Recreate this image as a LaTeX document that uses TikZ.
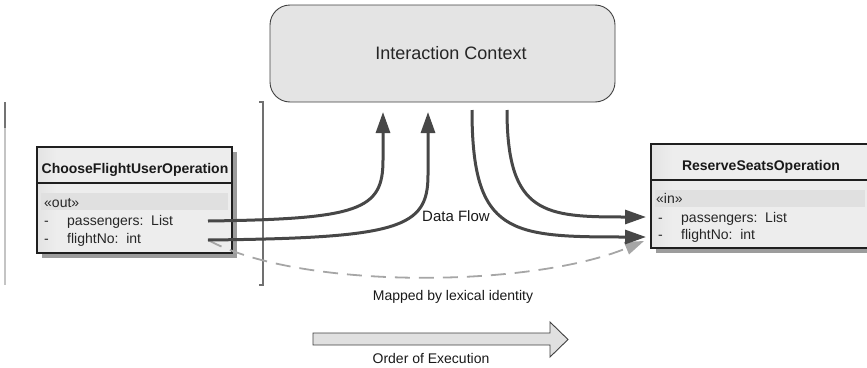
\documentclass[tikz,border=0pt]{standalone}
\usepackage{fontspec}
\setmainfont{Liberation Sans}
\usetikzlibrary{arrows.meta}

\definecolor{boxfill}{HTML}{EDEDED}
\definecolor{bandfill}{HTML}{E0E0E0}
\definecolor{ctxfill}{HTML}{E4E4E4}
\definecolor{flowcol}{HTML}{474747}
\definecolor{mapcol}{HTML}{A6A6A6}
\definecolor{shadowcol}{HTML}{9C9C9C}
\definecolor{gradleft}{HTML}{B4B4B4}
\definecolor{bracketcol}{HTML}{707070}
\definecolor{leftlinecol}{HTML}{C4C4C4}
\pgfdeclarehorizontalshading{classshade}{100bp}{color(0bp)=(gradleft); color(30bp)=(boxfill); color(100bp)=(boxfill)}

\tikzset{
  classbox/.style={draw=black!88, line width=1.3pt, shading=classshade, inner sep=0pt},
  classshadow/.style={fill=shadowcol},
  classline/.style={draw=black!88, line width=1.3pt},
  band/.style={fill=bandfill},
  attr/.style={font=\fontsize{14pt}{16pt}\selectfont, inner sep=0pt, text=black!85},
  header/.style={font=\fontsize{14pt}{16pt}\selectfont\bfseries, inner sep=0pt, text=black!90},
  ctxbox/.style={draw=black!75, line width=0.9pt, fill=ctxfill, rounded corners=20pt, inner sep=0pt},
  ctxlabel/.style={font=\fontsize{18pt}{20pt}\selectfont, inner sep=0pt, text=black!85},
  lbl/.style={font=\fontsize{14pt}{16pt}\selectfont, inner sep=0pt, text=black!90},
  flowarrow/.style={draw=flowcol, line width=3pt, -{Triangle[length=21pt,width=14pt]}},
  maparrow/.style={draw=mapcol, line width=1.8pt, dash pattern=on 15pt off 9pt, -{Triangle[length=19pt,width=13pt]}},
  bracketline/.style={draw=bracketcol, line width=1.6pt},
  leftline/.style={draw=leftlinecol, line width=1.5pt},
  bigarrow/.style={draw=black!75, line width=0.9pt, fill=bandfill}
}

\begin{document}
\begin{tikzpicture}[x=1pt,y=-1pt]
\useasboundingbox (0,0) rectangle (867,367);
\clip (0,0) rectangle (867,367);

% left thin line and bracket
\draw[leftline] (5,102) -- (5,285);
\draw[draw=black!55, line width=1.5pt] (5,102) -- (5,128);
\draw[bracketline] (259,102) -- (263,102) -- (263,285) -- (259,285);

% Interaction Context
\node[ctxbox, minimum width=345pt, minimum height=97pt] (ctx) at (442.5,53.5) {};
\node[ctxlabel, anchor=base] (ctxtext) at (451,59) {Interaction Context};

% left class box
\fill[classshadow] (42,152) rectangle (237,258);
\node[classbox, minimum width=195pt, minimum height=106pt] (cf) at (134.5,200) {};
\draw[classline] (37,183) -- (232,183);
\fill[band] (41,193) rectangle (228,210);
\node[header, anchor=base] (cfname) at (135,173) {ChooseFlightUserOperation};
\node[attr, anchor=base west] (cfout) at (44,207) {«out»};
\node[attr, anchor=base west] (cfdash1) at (44,225) {-};
\node[attr, anchor=base west] (cfpass) at (67,225) {passengers:\ \ List};
\node[attr, anchor=base west] (cfdash2) at (44,243) {-};
\node[attr, anchor=base west] (cffno) at (67,243) {flightNo:\ \ int};

% right class box
\fill[classshadow] (656,149) rectangle (874,253);
\node[classbox, minimum width=218pt, minimum height=104pt] (rs) at (760,196) {};
\draw[classline] (651,180) -- (869,180);
\fill[band] (655,190) rectangle (865,207);
\node[header, anchor=base] (rsname) at (761,170) {ReserveSeatsOperation};
\node[attr, anchor=base west] (rsin) at (656,203) {«in»};
\node[attr, anchor=base west] (rsdash1) at (658,222) {-};
\node[attr, anchor=base west] (rspass) at (681,222) {passengers:\ \ List};
\node[attr, anchor=base west] (rsdash2) at (658,239) {-};
\node[attr, anchor=base west] (rsfno) at (681,239) {flightNo:\ \ int};

% connector end points
\coordinate (cfpassout) at (208,221);
\coordinate (cffnoout) at (208,240);
\coordinate (ctxin1) at (383,112);
\coordinate (ctxin2) at (428,112);
\coordinate (ctxout1) at (472,110);
\coordinate (ctxout2) at (507,110);
\coordinate (rspassin) at (646,217);
\coordinate (rsfnoin) at (646,237);
\coordinate (rsmapin) at (644,241);

% mapped by lexical identity
\draw[maparrow] (cffnoout) .. controls (300,290) and (530,288) .. (rsmapin);

% data flow arrows
\draw[flowarrow] (cfpassout) .. controls (360,219) and (383,210) .. (383,160) -- (ctxin1);
\draw[flowarrow] (cffnoout) .. controls (400,238) and (428,228) .. (428,175) -- (ctxin2);
\draw[flowarrow] (ctxout1) .. controls (472,235) and (510,237) .. (rsfnoin);
\draw[flowarrow] (ctxout2) .. controls (507,215) and (545,217) .. (rspassin);

% labels
\node[lbl, font=\fontsize{15pt}{17pt}\selectfont, anchor=base] (dataflow) at (456,221) {Data Flow};
\node[lbl, anchor=base] (mapped) at (453,300) {Mapped by lexical identity};

% order of execution
\draw[bigarrow] (313,333) -- (550,333) -- (550,322) -- (568,339.5) -- (550,357) -- (550,345) -- (313,345) -- cycle;
\node[lbl, anchor=base] (order) at (431,363) {Order of Execution};
\end{tikzpicture}
\end{document}
